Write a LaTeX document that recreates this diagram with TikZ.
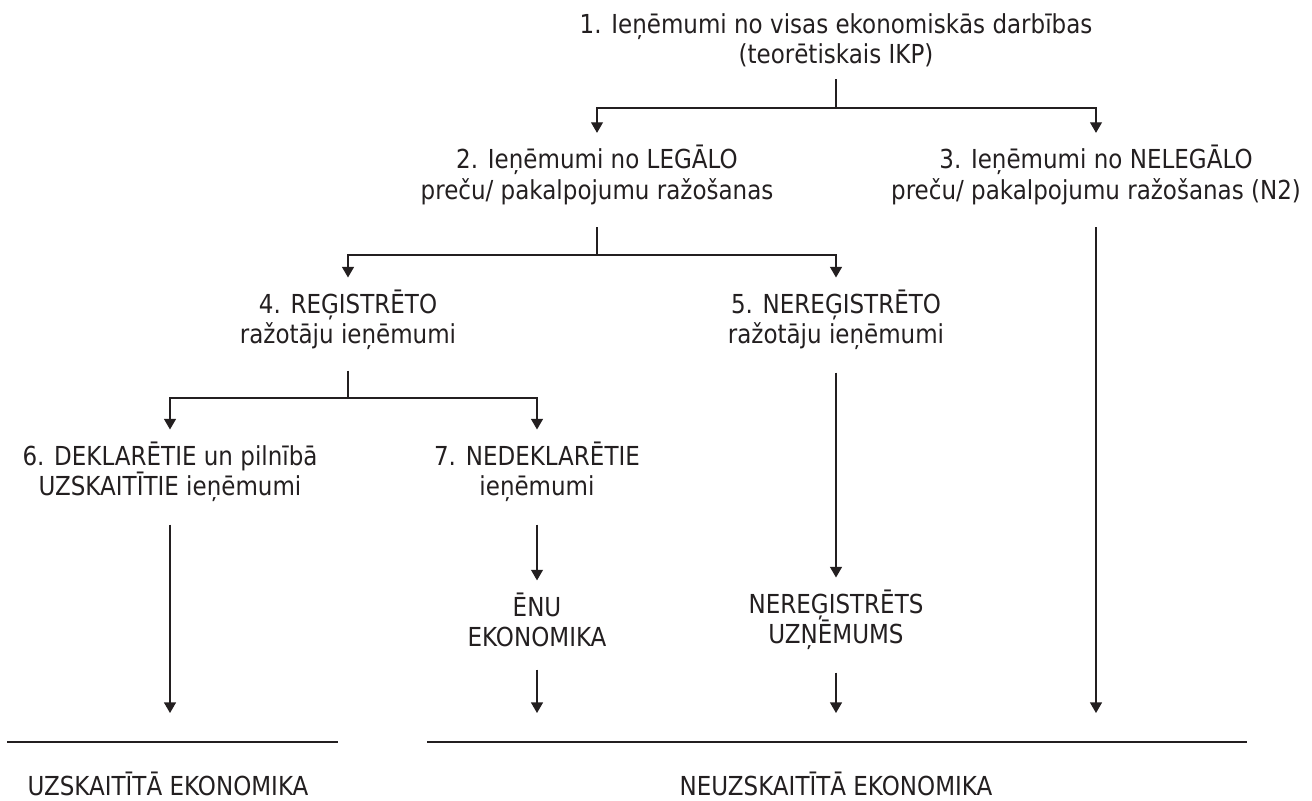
\documentclass[tikz,border=0pt]{standalone}
\usepackage{fontspec}
\setmainfont{DejaVu Sans}[FakeStretch=0.88]
\usetikzlibrary{positioning,arrows.meta}
\definecolor{ink}{HTML}{231F20}
\tikzset{every picture/.style={line width=0.8pt}}
\tikzset{
  box/.style={align=center, inner xsep=2pt, inner ysep=0.3cm, text=ink,
    font=\fontsize{18.6}{21.5}\selectfont},
  link/.style={draw=ink, -{Triangle[width=8.5pt,length=7.5pt]}},
  down/.style={link, shorten <=0.25cm},
}

\begin{document}
\begin{tikzpicture}
    \useasboundingbox (0,0) rectangle (32.8,20);

    % Income levels
    \node[box] (n1) at (20.9,19.0) {1. Ieņēmumi no visas ekonomiskās darbības\\(teorētiskais IKP)};
    \node[box] (n2) at (14.925,15.625) {2. Ieņēmumi no LEGĀLO\\preču/ pakalpojumu ražošanas};
    \node[box] (n3) at (27.4,15.625) {3. Ieņēmumi no NELEGĀLO\\preču/ pakalpojumu ražošanas (N2)};
    \node[box] (n4) at (8.7,12.0) {4. REĢISTRĒTO\\ražotāju ieņēmumi};
    \node[box] (n5) at (20.9,12.0) {5. NEREĢISTRĒTO\\ražotāju ieņēmumi};
    \node[box] (n6) at (4.25,8.2) {6. DEKLARĒTIE un pilnībā\\UZSKAITĪTIE ieņēmumi};
    \node[box] (n7) at (13.425,8.2) {7. NEDEKLARĒTIE\\ieņēmumi};
    \node[box] (n8) at (13.425,4.5) {ĒNU\\EKONOMIKA};
    \node[box] (n9) at (20.9,4.5) {NEREĢISTRĒTS\\UZŅĒMUMS};

    % Split points
    \coordinate (j1) at (20.9,17.3);
    \coordinate (j2) at (14.925,13.625);
    \coordinate (j4) at (8.7,10.05);
    \coordinate (tip) at (0,2.175);

    \draw[ink] (n1.south) -- (j1);
    \draw[link] (j1) -| (n2.north);
    \draw[link] (j1) -| (n3.north);
    \draw[ink, shorten <=0.25cm] (n2.south) -- (j2);
    \draw[link] (j2) -| (n4.north);
    \draw[link] (j2) -| (n5.north);
    \draw[ink, shorten <=0.2cm] (n4.south) -- (j4);
    \draw[link] (j4) -| (n6.north);
    \draw[link] (j4) -| (n7.north);

    % Down to the totals
    \draw[down] (n3.south) -- (n3 |- tip);
    \draw[down] (n6.south) -- (n6 |- tip);
    \draw[down] (n7.south) -- (n8.north);
    \draw[down] (n5.south) -- (n9.north);
    \draw[down] (n8.south) -- (n8 |- tip);
    \draw[down] (n9.south) -- (n9 |- tip);

    % Totals
    \draw[ink] (0.175,1.45) -- (8.45,1.45);
    \draw[ink] (10.675,1.45) -- (31.175,1.45);
    \node[box, inner ysep=0pt] (u1) at (4.2,0.4) {UZSKAITĪTĀ EKONOMIKA};
    \node[box, inner ysep=0pt] (u2) at (20.9,0.4) {NEUZSKAITĪTĀ EKONOMIKA};
\end{tikzpicture}
\end{document}
